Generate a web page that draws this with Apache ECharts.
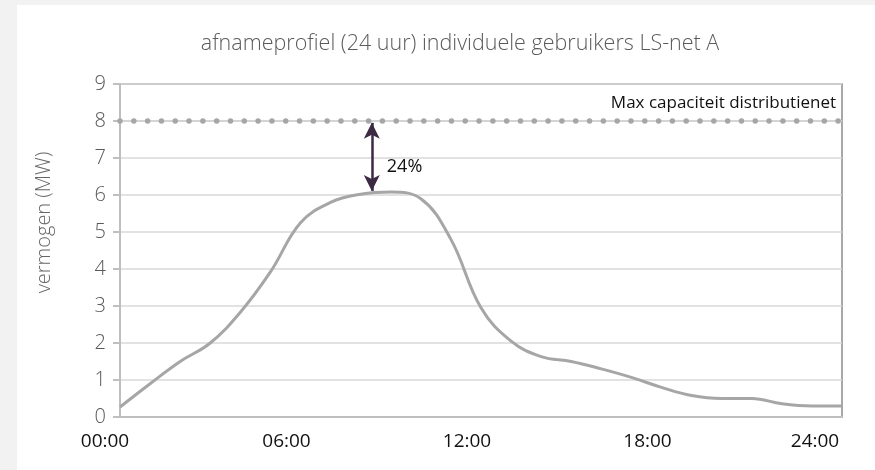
<!DOCTYPE html>
<html>
<head>
<meta charset="utf-8">
<script src="https://cdn.jsdelivr.net/npm/echarts@6/dist/echarts.min.js"></script>
<style>
html,body{margin:0;padding:0;background:#f2f2f2;}
#chart{width:875px;height:470px;}
</style>
</head>
<body>
<div id="chart"></div>
<script>
// ---- data ----
var hours = [0,1,2,3,4,5,6,7,8,9,10,11,12,13,14,15,16,17,18,19,20,21,22,23,24];
var power = [0.27,0.9,1.5,2.0,2.83,3.92,5.25,5.8,6.02,6.08,5.9,4.8,2.95,2.05,1.63,1.5,1.3,1.07,0.8,0.58,0.5,0.5,0.36,0.3,0.3];
var xTickLabels = ['00:00','06:00','12:00','18:00','24:00'];
var maxCapacity = 8;
var peakHour = 8.37;
var peakValue = 6.09;
var pctLabel = '24%';
var capLabel = 'Max capaciteit distributienet';
var titleText = 'afnameprofiel (24 uur) individuele gebruikers LS-net A';
var yName = 'vermogen (MW)';

var seriesData = hours.map(function(h,i){return [h, power[i]];});
var FONT = '"Open Sans", "Noto Sans", sans-serif';

var chart = echarts.init(document.getElementById('chart'));
var richBase = {fontFamily: FONT, fontSize:19, color:'#111'};
function rs(pr){ return Object.assign({padding:[0,pr,0,0]}, richBase); }
chart.setOption({
  backgroundColor: '#f2f2f2',
  animation: false,
  graphic: [{type:'rect', z:-10, silent:true, shape:{x:17,y:5,width:858,height:465}, style:{fill:'#ffffff'}}],
  title: {
    text: titleText, left: 455, textAlign: 'center', top: 28,
    textStyle: {fontFamily: FONT, fontWeight: 300, fontSize: 21.5, color: '#5a5a5a'}
  },
  grid: {left:120, right:33, top:84, bottom:53, show:true, borderColor:'#8c8c8c', borderWidth:1.5, backgroundColor:'transparent'},
  xAxis: {
    type:'value', min:0, max:24, interval:6,
    axisLine:{show:true, lineStyle:{color:'#bfbfbf', width:2}},
    axisTick:{show:false},
    splitLine:{show:false},
    axisLabel:{
      margin: 15, fontFamily: FONT, fontSize: 19, color:'#111',
      formatter: function(v){ var i = Math.round(v/6); return '{l' + i + '|' + xTickLabels[i] + '}'; },
      rich: { l0: rs(30), l1: rs(28), l2: rs(28), l3: rs(28), l4: rs(54) }
    }
  },
  yAxis: {
    type:'value', min:0, max:9, interval:1,
    name: yName, nameLocation:'middle', nameGap:66,
    nameTextStyle:{fontFamily: FONT, fontSize:20, fontWeight:300, color:'#666', padding:[0,0,0,56]},
    axisLine:{show:true, lineStyle:{color:'#bfbfbf', width:2}},
    axisTick:{show:true, length:7, lineStyle:{color:'#bfbfbf', width:2}},
    splitLine:{show:true, lineStyle:{color:'#d9d9d9', width:1.5}},
    axisLabel:{margin:14, fontFamily: FONT, fontSize:20, fontWeight:300, color:'#595959'}
  },
  series: [
    {
      type:'line', data: seriesData, smooth: 0.4, showSymbol:false,
      lineStyle:{color:'#a6a6a6', width:3},
      z: 3,
      markLine: {
        silent:true, symbol:['none','none'],
        data: [
          [{coord:[0,maxCapacity], lineStyle:{color:'#cfcfcf', width:1.5, type:'solid'}, label:{show:false}},
           {coord:[24,maxCapacity]}],
          [{coord:[0,maxCapacity], lineStyle:{color:'#a6a6a6', width:5.5, type:[0.01,13.8], cap:'round'},
            label:{show:true, position:'insideEndTop', formatter: capLabel, distance:[6,9], fontFamily: FONT, fontSize:17, color:'#111'}},
           {coord:[24,maxCapacity]}]
        ]
      }
    },
    {
      type:'line', data: [], z: 5,
      markLine: {
        silent:true, symbol:['arrow','arrow'], symbolSize:[12,16],
        lineStyle:{color:'#3b2a42', width:2.5, type:'solid'},
        label:{show:false},
        data: [[{coord:[peakHour, maxCapacity - 0.05]},{coord:[peakHour, peakValue + 0.02]}]]
      },
      markPoint: {
        silent:true, symbol:'circle', symbolSize:0,
        data:[{coord:[peakHour, 6.76]}],
        label:{show:true, formatter: pctLabel, position:'right', distance:15, fontFamily: FONT, fontSize:18, color:'#111'}
      }
    }
  ]
});
</script>
</body>
</html>
